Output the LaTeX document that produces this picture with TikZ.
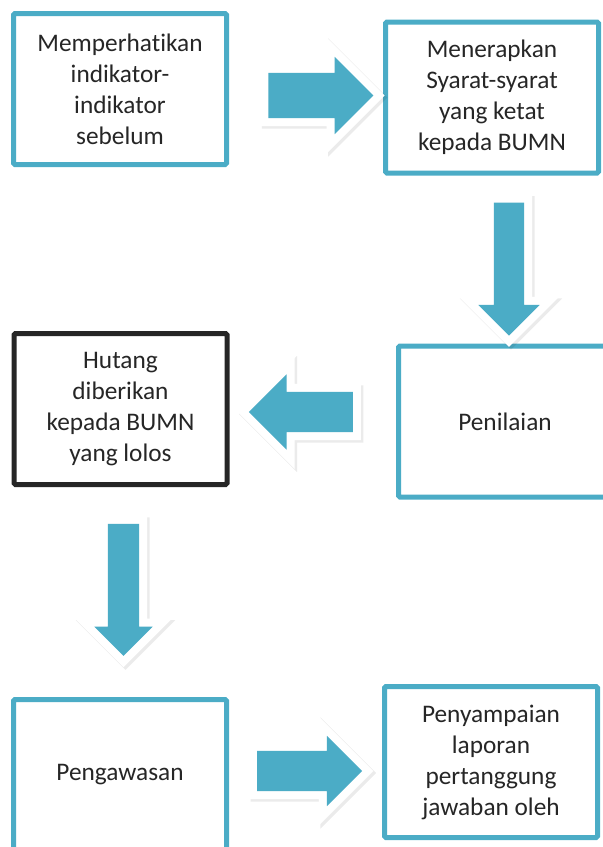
\documentclass[tikz,border=0pt]{standalone}
\usepackage{fontspec}
\setmainfont{Carlito}[Ligatures=NoCommon]
\usetikzlibrary{shapes.arrows,shadows}
\definecolor{stepblue}{RGB}{75,172,198}
\definecolor{steptext}{RGB}{38,38,38}
\tikzset{
    stepbox/.style={
        draw=#1,line width=5pt,rounded corners=1.5pt,fill=white,
        minimum width=213pt,minimum height=151pt,inner sep=0pt,
        align=center,text=steptext,font=\fontsize{25.3}{31}\selectfont
    },
    stepbox/.default=stepblue,
    bigarrow/.style={
        single arrow,fill=stepblue,inner sep=0pt,line join=miter,
        drop shadow={draw=black,fill=black,line width=17pt,opacity=.08,
            shadow xshift=2pt,shadow yshift=-2pt},
        preaction={draw=white,line width=16pt}
    }
}
\begin{document}
\begin{tikzpicture}[x=1pt,y=-1pt]
\useasboundingbox (0,0) rectangle (603,847);
\clip (0,0) rectangle (603,847);

\node[stepbox] (indikator) at (120,89)
{Memperhatikan\\indikator-\\indikator\\sebelum};

\node[stepbox] (syarat) at (492,97.5)
{Menerapkan\\Syarat-syarat\\yang ketat\\kepada BUMN};

\node[stepbox] (nilai) at (505,421.5) {Penilaian};

\node[stepbox=black!85] (hutang) at (120.5,409)
{Hutang\\diberikan\\kepada BUMN\\yang lolos};

\node[stepbox] (awas) at (120,775) {Pengawasan};

\node[stepbox] (lapor) at (491,762)
{Penyampaian\\laporan\\pertanggung\\jawaban oleh};

\node[bigarrow,inner ysep=22.5pt,single arrow head extend=16pt,
minimum height=105pt] (arrA) at (309.5,95.5) {};

\node[bigarrow,shape border rotate=270,inner xsep=15pt,
single arrow head extend=15.5pt,minimum height=133pt] (arrB) at (509,261.5) {};

\node[bigarrow,shape border rotate=180,inner ysep=20pt,
single arrow head extend=17.5pt,minimum height=104pt] (arrC) at (311,412) {};

\node[bigarrow,shape border rotate=270,inner xsep=15.5pt,
single arrow head extend=13.5pt,minimum height=132pt] (arrD) at (123.5,582) {};

\node[bigarrow,inner ysep=20pt,single arrow head extend=15pt,
minimum height=105pt] (arrE) at (299.5,771) {};

\end{tikzpicture}
\end{document}
